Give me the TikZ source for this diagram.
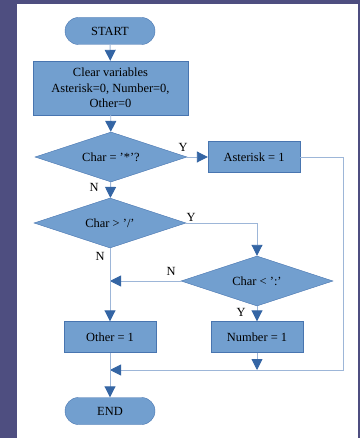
\documentclass[tikz,border=0pt]{standalone}
\usepackage{fontspec}
\setmainfont{Liberation Serif}
\usetikzlibrary{arrows.meta,shapes.geometric,positioning}
\definecolor{boxFill}{RGB}{114,159,207}
\definecolor{boxLine}{RGB}{72,117,176}
\definecolor{flowLine}{RGB}{157,182,216}
\definecolor{tipBlue}{RGB}{52,101,164}
\definecolor{slideBg}{RGB}{78,78,128}
\tikzset{
    >={Triangle[width=11bp,length=11bp,color=tipBlue]},
    every node/.append style={align=center,font=\fontsize{12.5}{15.5}\selectfont},
    term/.style={rectangle,rounded corners=13.5bp,draw=boxLine,fill=boxFill,minimum width=90bp,minimum height=27bp},
    proc/.style={rectangle,draw=boxLine,fill=boxFill,minimum width=92bp,minimum height=31bp},
    decision/.style={diamond,draw=boxLine,fill=boxFill,aspect=3,minimum width=152bp,minimum height=50bp,inner sep=0pt},
    flow/.style={draw=flowLine,line width=0.9bp},
    lbl/.style={inner sep=1bp},
}

\begin{document}
\begin{tikzpicture}[x=1bp,y=-1bp]
        \fill[slideBg] (0,0) rectangle (360,438);
        \fill[white] (17,4) rectangle (358,438);

        \node[term] (start) at (110,31) {START};
        \node[proc,minimum width=155bp,minimum height=54bp] (clear) at (110.5,88) {Clear variables\\Asterisk=0, Number=0,\\Other=0};
        \node[decision] (isstar) at (111,157) {Char = '*'?};
        \node[proc] (aster) at (254,157) {Asterisk = 1};
        \node[decision] (gtslash) at (110,223) {Char > '/'};
        \node[decision] (ltcolon) at (257,281) {Char < ':'};
        \node[proc] (other) at (110,337) {Other = 1};
        \node[proc] (number) at (257,337) {Number = 1};
        \node[term] (end) at (110,411) {END};
        \coordinate (rail) at (343,370);
        \coordinate (merge) at (110,370);

        \draw[flow,->] (start) -- (clear);
        \draw[flow,->] (clear) -- (isstar);
        \draw[flow,->] (isstar) -- (aster);
        \draw[flow,->] (isstar) -- (gtslash);
        \draw[flow,->] (gtslash.east) -| (ltcolon.north);
        \draw[flow,->] (ltcolon.west) -- (ltcolon.west -| other);
        \draw[flow,->] (gtslash) -- (other);
        \draw[flow,->] (ltcolon) -- (number);
        \draw[flow,->] (aster.east) -| (rail) -- (merge);
        \draw[flow,->] (number) -- (number |- merge);
        \draw[flow,->] (other) -- (end);

        \node[lbl] (yStar) at (183,147) {Y};
        \node[lbl] (nStar) at (94,187) {N};
        \node[lbl] (ySlash) at (191,217) {Y};
        \node[lbl] (nSlash) at (100,256) {N};
        \node[lbl] (nColon) at (171,271) {N};
        \node[lbl] (yColon) at (241,312) {Y};
\end{tikzpicture}
\end{document}
